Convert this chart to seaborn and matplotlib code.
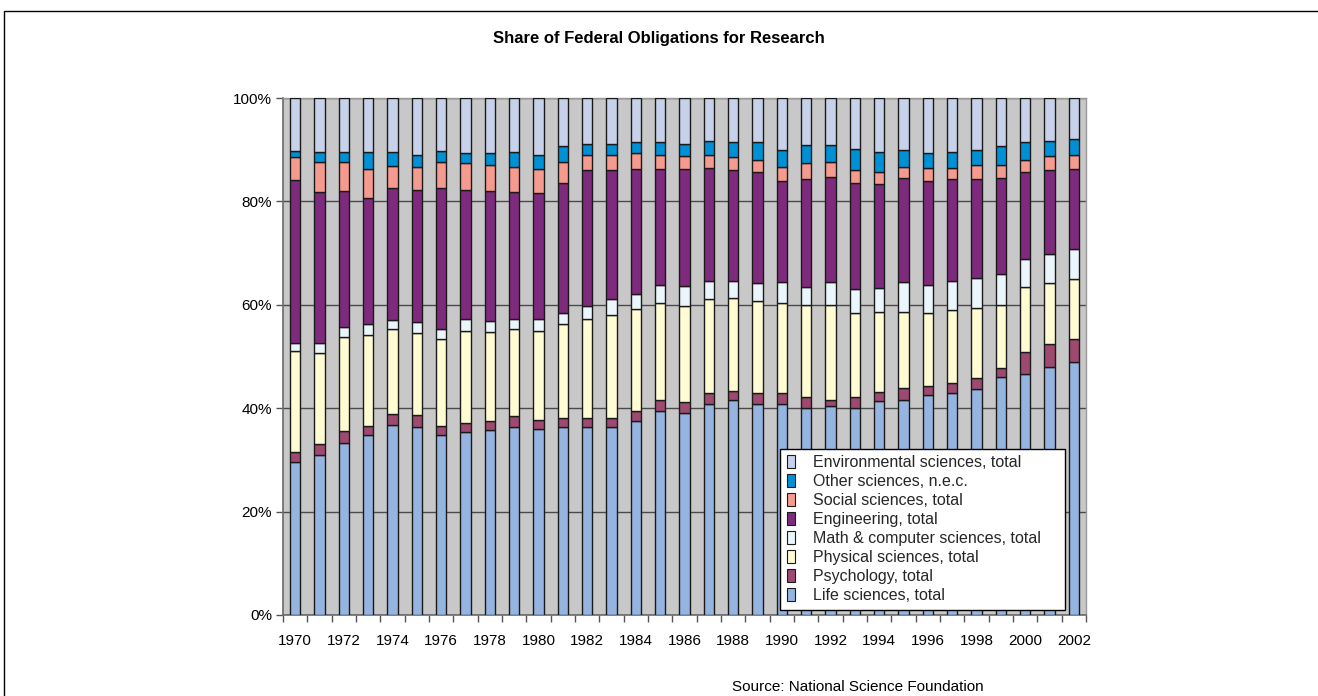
import matplotlib
matplotlib.use("Agg")
import matplotlib.pyplot as plt
import seaborn as sns
import numpy as np
import pandas as pd
from matplotlib.patches import Patch, Rectangle
from matplotlib.ticker import FixedLocator, FuncFormatter

years = list(range(1970, 2003))

life = [29.5, 30.9, 33.2, 34.8, 36.7, 36.3, 34.8, 35.3, 35.8, 36.3, 36.0, 36.3, 36.3, 36.3, 37.5, 39.5, 39.1,
        40.9, 41.5, 40.9, 40.9, 40.1, 40.4, 40.1, 41.3, 41.5, 42.6, 42.9, 43.8, 46.1, 46.7, 48.0, 49.0]
psychology = [2.0, 2.2, 2.3, 1.8, 2.2, 2.3, 1.8, 1.9, 1.7, 2.1, 1.7, 1.8, 1.8, 1.8, 2.0, 2.0, 2.1,
              2.0, 1.9, 2.0, 2.0, 2.0, 1.2, 2.0, 1.9, 2.4, 1.7, 2.0, 2.0, 1.7, 4.2, 4.4, 4.4]
physical = [19.5, 17.5, 18.3, 17.5, 16.4, 16.0, 16.7, 17.8, 17.2, 16.9, 17.3, 18.1, 19.2, 20.0, 19.7, 18.9, 18.6,
            18.2, 17.9, 17.8, 17.5, 17.8, 18.3, 16.3, 15.5, 14.8, 14.1, 14.0, 13.5, 12.1, 12.5, 11.8, 11.5]
math_cs = [1.7, 2.1, 2.0, 2.1, 1.8, 2.1, 2.0, 2.3, 2.2, 2.0, 2.3, 2.2, 2.5, 3.1, 2.9, 3.5, 3.8,
           3.6, 3.4, 3.5, 4.0, 3.6, 4.5, 4.6, 4.6, 5.7, 5.5, 5.8, 5.9, 6.0, 5.5, 5.7, 5.8]
engineering = [31.5, 29.2, 26.3, 24.5, 25.4, 25.5, 27.2, 24.9, 25.2, 24.6, 24.3, 25.2, 26.2, 24.8, 24.1, 22.3, 22.6,
               21.8, 21.3, 21.4, 19.5, 20.8, 20.4, 20.6, 20.0, 20.1, 20.0, 19.6, 19.1, 18.6, 16.7, 16.1, 15.5]
social = [4.3, 5.7, 5.5, 5.5, 4.4, 4.5, 5.1, 5.2, 4.9, 4.8, 4.6, 4.0, 3.0, 3.0, 3.1, 2.8, 2.5,
          2.5, 2.5, 2.5, 2.8, 3.1, 2.8, 2.4, 2.4, 2.2, 2.6, 2.2, 2.7, 2.5, 2.5, 2.7, 2.8]
other = [1.3, 2.0, 2.0, 3.4, 2.7, 2.3, 2.2, 1.9, 2.3, 2.9, 2.8, 3.2, 2.1, 2.1, 2.1, 2.4, 2.4,
         2.6, 2.9, 3.3, 3.2, 3.6, 3.4, 4.2, 3.9, 3.2, 2.8, 3.1, 2.9, 3.8, 3.3, 2.9, 3.0]
environmental = [10.2, 10.4, 10.4, 10.4, 10.4, 11.0, 10.2, 10.7, 10.7, 10.4, 11.0, 9.2, 8.9, 8.9, 8.6, 8.6, 8.9,
                 8.4, 8.6, 8.6, 10.1, 9.0, 9.0, 9.8, 10.4, 10.1, 10.7, 10.4, 10.1, 9.2, 8.6, 8.4, 8.0]

series_names = ["Life sciences, total", "Psychology, total", "Physical sciences, total",
                "Math & computer sciences, total", "Engineering, total", "Social sciences, total",
                "Other sciences, n.e.c.", "Environmental sciences, total"]
series_values = [life, psychology, physical, math_cs, engineering, social, other, environmental]
colors = ["#95B4DF", "#9E4A70", "#FFFBD2", "#EAF5FC", "#7E2A7D", "#F59A8E", "#0090D5", "#C7D2EA"]

sns.set_theme(style="white")
plt.rcParams['font.family'] = ['Liberation Sans', 'DejaVu Sans']

fig = plt.figure(figsize=(13.18, 6.96), dpi=100)
ax = fig.add_axes([283/1318, 1 - 615/696, (1086-283)/1318, (615-98)/696])
ax.set_facecolor("#C8C8C8")

ycats = [str(y) for y in years]
bottom = np.zeros(len(years))
for name, vals, col in zip(series_names, series_values, colors):
    df = pd.DataFrame({"year": ycats, "share": vals})
    sns.barplot(data=df, x="year", y="share", order=ycats, bottom=bottom.copy(), color=col,
                saturation=1, width=0.42, edgecolor="#1a1a1a", linewidth=1.0, ax=ax, zorder=3)
    bottom += np.array(vals)

ax.set_xlim(-0.5, len(years) - 0.5)
ax.set_ylim(0, 100)
ax.set_xlabel("")
ax.set_ylabel("")
ax.set_yticks([0, 20, 40, 60, 80, 100])
ax.yaxis.set_major_formatter(FuncFormatter(lambda v, p: f"{int(v)}%"))
ax.grid(axis="y", color="#4a4a4a", linewidth=1.0, zorder=1)
ax.grid(axis="x", visible=False)
ax.set_axisbelow(True)

major = list(range(0, len(years), 2))
ax.xaxis.set_major_locator(FixedLocator(major))
ax.set_xticklabels([ycats[i] for i in major])
ax.xaxis.set_minor_locator(FixedLocator(np.arange(-0.5, len(years), 1.0)))
ax.tick_params(axis="x", which="major", length=0, pad=14, labelsize=11, colors="black")
ax.tick_params(axis="x", which="minor", length=5, width=1, color="#555555", direction="out", bottom=True)
ax.tick_params(axis="y", which="major", length=5, width=1, color="#555555", direction="out", left=True,
               labelsize=11, pad=3, colors="black")
for lbl in ax.get_yticklabels() + ax.get_xticklabels():
    lbl.set_color("black")

for s in ["top", "right"]:
    ax.spines[s].set_color("#9a9a9a")
    ax.spines[s].set_linewidth(1)
for s in ["left", "bottom"]:
    ax.spines[s].set_color("#6a6a6a")
    ax.spines[s].set_linewidth(1.2)

handles = [Patch(facecolor=c, edgecolor="#1a1a1a", linewidth=0.8, label=n)
           for n, c in zip(series_names, colors)][::-1]
leg = ax.legend(handles=handles, loc="lower left",
                bbox_to_anchor=((780-283)/803, (615-610)/517, 285/803, 161/517), mode="expand",
                frameon=True, fancybox=False, shadow=False, fontsize=11.5, handlelength=0.55,
                handleheight=0.85, handletextpad=1.1, labelspacing=0.25, borderpad=0.42,
                borderaxespad=0, facecolor="white", edgecolor="black", framealpha=1)
leg.get_frame().set_linewidth(1.0)
leg.set_zorder(5)

fig.text(0.5, 1 - 38/696, "Share of Federal Obligations for Research", ha="center", va="center",
         fontsize=12, fontweight="bold", color="black")
fig.text(732/1318, 1 - 694/696, "Source: National Science Foundation", ha="left", va="bottom",
         fontsize=11, color="black")

fig.add_artist(Rectangle((4/1318, -0.2), 2.0, 1.2 - 11/696, transform=fig.transFigure,
                         fill=False, edgecolor="black", linewidth=1.0))

fig.savefig("out.png", dpi=100)
